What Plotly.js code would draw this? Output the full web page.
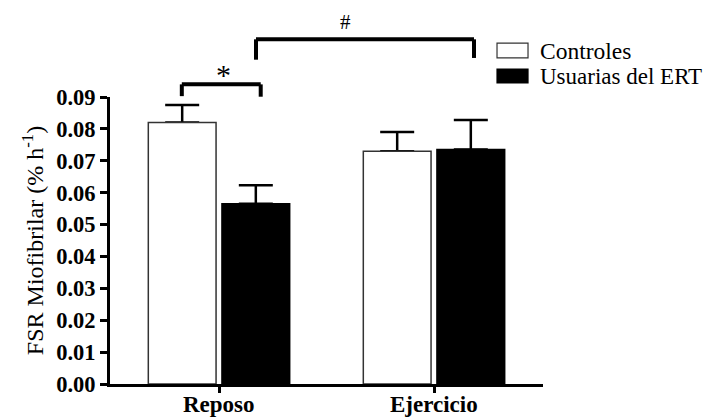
<!DOCTYPE html>
<html>
<head>
<meta charset="utf-8">
<script src="https://cdn.plot.ly/plotly-3.0.1.min.js"></script>
<style>
html,body{margin:0;padding:0;background:#fff;}
#chart{width:714px;height:419px;}
</style>
</head>
<body>
<div id="chart"></div>
<script>
var categories = ['Reposo', 'Ejercicio'];
var seriesNames = ['Controles', 'Usuarias del ERT'];
var controlesValues = [0.082, 0.073];
var controlesErrors = [0.0055, 0.006];
var usuariasValues = [0.0565, 0.0735];
var usuariasErrors = [0.0058, 0.0093];
var zeroErrors = [0, 0];
var yTickVals = [0, 0.01, 0.02, 0.03, 0.04, 0.05, 0.06, 0.07, 0.08, 0.09];
var yTickText = ['0.00', '0.01', '0.02', '0.03', '0.04', '0.05', '0.06', '0.07', '0.08', '0.09'];

var serif = 'Liberation Serif';

var errC = {
  type: 'bar', name: seriesNames[0] + ' SEM', x: categories, y: controlesValues, offsetgroup: 'c',
  marker: {color: 'rgba(0,0,0,0)', line: {width: 0}},
  error_y: {type: 'data', symmetric: false, array: controlesErrors, arrayminus: zeroErrors, color: '#000', thickness: 2.5, width: 17},
  showlegend: false, hoverinfo: 'skip'
};
var traceC = {
  type: 'bar', name: seriesNames[0], x: categories, y: controlesValues, offsetgroup: 'c',
  marker: {color: '#ffffff', line: {color: '#333333', width: 1.5}},
  showlegend: false
};
var traceU = {
  type: 'bar', name: seriesNames[1], x: categories, y: usuariasValues, offsetgroup: 'u',
  marker: {color: '#000000', line: {color: '#000000', width: 1.5}},
  error_y: {type: 'data', symmetric: false, array: usuariasErrors, arrayminus: zeroErrors, color: '#000', thickness: 2.5, width: 17},
  showlegend: false
};

var lw = 4;
function bracket(x0, x1, yTop, yLeg0, yLeg1) {
  return [
    {type: 'line', xref: 'x', yref: 'paper', x0: x0, x1: x1, y0: yTop, y1: yTop, line: {color: '#000', width: lw}},
    {type: 'line', xref: 'x', yref: 'paper', x0: x0, x1: x0, y0: yTop, y1: yLeg0, line: {color: '#000', width: lw}},
    {type: 'line', xref: 'x', yref: 'paper', x0: x1, x1: x1, y0: yTop, y1: yLeg1, line: {color: '#000', width: lw}}
  ];
}
var shapes = [].concat(
  bracket(-0.173, 0.194, 1.044, 1.003, 1.001),
  bracket(0.172, 1.186, 1.201, 1.130, 1.136),
  [
    {type: 'rect', xref: 'paper', yref: 'paper', x0: 0.8938, x1: 0.9654, y0: 1.136, y1: 1.188, fillcolor: '#fff', line: {color: '#333', width: 1.2}},
    {type: 'rect', xref: 'paper', yref: 'paper', x0: 0.8938, x1: 0.9654, y0: 1.0488, y1: 1.0976, fillcolor: '#000', line: {color: '#000', width: 1.2}}
  ]
);

var annotations = [
  {xref: 'x', yref: 'paper', x: 0.02, y: 1.080, text: '*', showarrow: false, font: {family: serif, size: 30, color: '#000'}, yanchor: 'middle'},
  {xref: 'x', yref: 'paper', x: 0.59, y: 1.261, text: '#', showarrow: false, font: {family: serif, size: 21, color: '#000'}, yanchor: 'middle'},
  {xref: 'paper', yref: 'paper', x: 0.9885, y: 1.160, xanchor: 'left', yanchor: 'middle', text: seriesNames[0], showarrow: false, font: {family: serif, size: 23.5, color: '#000'}},
  {xref: 'paper', yref: 'paper', x: 0.9885, y: 1.070, xanchor: 'left', yanchor: 'middle', text: seriesNames[1], showarrow: false, font: {family: serif, size: 23, color: '#000'}}
].concat(categories.map(function(c) {
  return {xref: 'x', yref: 'paper', x: c, y: -0.072, yanchor: 'middle', text: '<b>' + c + '</b>', showarrow: false, font: {family: serif, size: 23, color: '#000'}};
}));

var layout = {
  width: 714, height: 419,
  margin: {l: 110, r: 171, t: 97, b: 35},
  paper_bgcolor: '#fff', plot_bgcolor: '#fff',
  barmode: 'group', bargap: 0.315, bargroupgap: 0.08,
  showlegend: false,
  font: {family: serif, color: '#000'},
  xaxis: {
    type: 'category', range: [-0.507, 1.507],
    showline: true, linecolor: '#000', linewidth: 3,
    ticks: 'outside', ticklen: 6, tickwidth: 3, tickcolor: '#000',
    showgrid: false, zeroline: false, showticklabels: false
  },
  yaxis: {
    range: [0, 0.09], tickvals: yTickVals, ticktext: yTickText,
    showline: true, linecolor: '#000', linewidth: 3,
    ticks: 'outside', ticklen: 7, tickwidth: 3, tickcolor: '#000',
    showgrid: false, zeroline: false,
    tickfont: {family: serif, size: 22.5, color: '#000', weight: 'bold'},
    title: {text: 'FSR Miofibrilar (% h<sup>-1</sup>)', font: {family: serif, size: 24, color: '#000'}, standoff: 6}
  },
  shapes: shapes,
  annotations: annotations
};

Plotly.newPlot('chart', [errC, traceC, traceU], layout, {displayModeBar: false, staticPlot: true});
</script>
</body>
</html>
